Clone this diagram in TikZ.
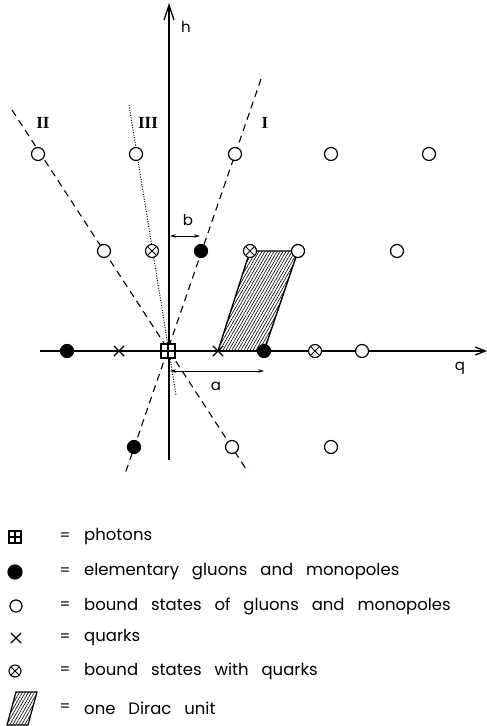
\documentclass[tikz,border=0pt]{standalone}
\usepackage{fontspec}
\newfontfamily\sfx{Poppins}
\newfontfamily\rmx{Liberation Serif}
\usetikzlibrary{patterns.meta,arrows.meta,shapes.misc}
\newcommand\myleg{\sfx\fontsize{16.5}{18}\selectfont\spaceskip=0.78em plus 0.1em\relax}
\tikzset{
  opn/.style={circle,draw,fill=white,line width=1.2pt,minimum size=13pt,inner sep=0pt},
  fil/.style={circle,draw,fill=black,line width=1.2pt,minimum size=13pt,inner sep=0pt},
  otm/.style={circle,draw,fill=white,line width=1.1pt,minimum size=13pt,inner sep=0pt,
    path picture={\draw[line width=0.9pt] (path picture bounding box.south west) -- (path picture bounding box.north east)
      (path picture bounding box.north west) -- (path picture bounding box.south east);}},
  qrk/.style={cross out,draw,line width=1.2pt,minimum size=9pt,inner sep=0pt},
  pht/.style={rectangle,draw,fill=white,line width=1.2pt,minimum size=14pt,inner sep=0pt,
    path picture={\draw[line width=1.1pt] (path picture bounding box.north) -- (path picture bounding box.south)
      (path picture bounding box.west) -- (path picture bounding box.east);}},
  axis/.style={line width=1.3pt},
  dline/.style={line width=1.1pt,dash pattern=on 7pt off 5pt},
  dotline/.style={line width=1pt,dash pattern=on 1pt off 1.5pt},
  dim/.style={line width=0.8pt,{Stealth[length=6pt,width=3.5pt]}-{Stealth[length=6pt,width=3.5pt]}},
  hatch/.style={line width=1.4pt,pattern={Lines[angle=60,distance=2.6pt,line width=0.6pt]}},
  lbl/.style={font=\sfx\fontsize{15}{17}\selectfont,inner sep=0pt},
  rom/.style={font=\rmx\bfseries\fontsize{17}{19}\selectfont,inner sep=0pt},
  leg/.style={font=\myleg,anchor=west,inner sep=0pt},
}
\begin{document}
\begin{tikzpicture}[x=1pt,y=-1pt]
\useasboundingbox (0,0) rectangle (487,726);
% axes
\coordinate (vb) at (169,460);
\coordinate (vt) at (169,3);
\coordinate (hl) at (40,351);
\coordinate (hr) at (487,351);
\draw[axis,-{Straight Barb[length=15pt,width=10pt]}] (vb) -- (vt);
\draw[axis,-{Straight Barb[length=10pt,width=8pt]}] (hl) -- (hr);
\node[lbl] (h) at (186,27) {h};
\node[lbl] (q) at (460,368) {q};
% lines I, II, III
\coordinate (Ia) at (261,79);  \coordinate (Ib) at (125,474);
\coordinate (IIa) at (12,110); \coordinate (IIb) at (248,472);
\coordinate (IIIa) at (129,105); \coordinate (IIIb) at (176,395);
\draw[dline] (Ia) -- (Ib);
\draw[dline] (IIa) -- (IIb);
\draw[dotline] (IIIa) -- (IIIb);
\node[rom] (nII) at (43,123) {II};
\node[rom] (nIII) at (148,123) {III};
\node[rom] (nI) at (265,123) {I};
% Dirac unit
\coordinate (d1) at (218,351); \coordinate (d2) at (264,351);
\coordinate (d3) at (298,251); \coordinate (d4) at (250,251);
\draw[hatch] (d1) -- (d2) -- (d3) -- (d4) -- cycle;
% row h=0
\node[fil] (F1) at (67,351) {};
\node[qrk] (X1) at (119,351) {};
\node[pht] (P0) at (168,351) {};
\node[qrk] (X2) at (218,351) {};
\node[fil] (F2) at (264,351) {};
\node[otm] (T1) at (315,351) {};
\node[opn] (O1) at (362,351) {};
% row h=1
\node[opn] (O2) at (104,251) {};
\node[otm] (T2) at (152,251) {};
\node[fil] (F3) at (201,251) {};
\node[otm] (T3) at (250,251) {};
\node[opn] (O3) at (298,251) {};
\node[opn] (O4) at (397,251) {};
% row h=2
\node[opn] (O5) at (38,154) {};
\node[opn] (O6) at (136,154) {};
\node[opn] (O7) at (235,154) {};
\node[opn] (O8) at (331,154) {};
\node[opn] (O9) at (429,154) {};
% row h=-1
\node[fil] (F4) at (134,447) {};
\node[opn] (O10) at (232,447) {};
\node[opn] (O11) at (331,447) {};
% dimensions
\coordinate (b1) at (170,236); \coordinate (b2) at (200,236);
\draw[dim] (b1) -- (b2);
\node[lbl] (bl) at (188,220) {b};
\coordinate (a1) at (170,371); \coordinate (a2) at (264,371);
\draw[dim] (a1) -- (a2);
\node[lbl] (al) at (216,386) {a};
% legend
\node[pht,minimum size=12pt] (L1) at (15,537) {};
\node[fil,minimum size=14pt] (L2) at (15,572) {};
\node[opn,minimum size=12pt] (L3) at (16,606) {};
\node[qrk,minimum size=9pt] (L4) at (16,638) {};
\node[otm,minimum size=12pt] (L5) at (15,671) {};
\coordinate (p1) at (7,725); \coordinate (p2) at (28,725);
\coordinate (p3) at (37,692); \coordinate (p4) at (16,692);
\draw[hatch,line width=1.2pt] (p1) -- (p2) -- (p3) -- (p4) -- cycle;
\foreach \y/\t [count=\i] in {537/photons,572/elementary gluons and monopoles,606/bound states of gluons and monopoles,638/quarks,671/bound states with quarks,708/one Dirac unit}{
  \node[lbl] (eq\i) at (65,\y) {=};
  \node[leg] (t\i) at (84,\y) {\t};
}
\end{tikzpicture}
\end{document}
